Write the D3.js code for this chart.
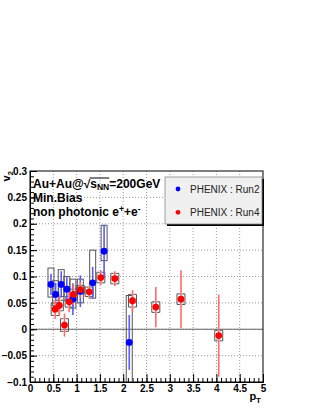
<!DOCTYPE html>
<html>
<head>
<meta charset="utf-8">
<script src="https://cdn.jsdelivr.net/npm/d3@7"></script>
<style>
  body { margin: 0; background: #fff; }
  text { font-family: "Liberation Sans", Arial, sans-serif; }
</style>
</head>
<body>
<svg id="chart" width="316" height="409"></svg>
<script>
// Run2 (blue) : pT, v2, stat error, systematic box
var run2Pt    = [0.45, 0.55, 0.67, 0.79, 0.92, 1.08, 1.345, 1.59, 2.13];
var run2V2    = [0.085, 0.066, 0.085, 0.076, 0.057, 0.072, 0.088, 0.148, -0.025];
var run2Stat  = [0.020, 0.022, 0.025, 0.025, 0.030, 0.030, 0.030, 0.050, 0.052];
var run2SysHi = [0.116, 0.092, 0.113, 0.100, 0.095, 0.095, 0.150, 0.197, 0.064];
var run2SysLo = [0.061, 0.045, 0.062, 0.055, 0.040, 0.050, 0.059, 0.130, -0.120];

// Run4 (red)
var run4Pt   = [0.54, 0.63, 0.74, 0.84, 0.93, 1.08, 1.27, 1.52, 1.82, 2.2, 2.7, 3.24, 4.05];
var run4V2   = [0.038, 0.045, 0.008, 0.052, 0.066, 0.075, 0.071, 0.098, 0.096, 0.054, 0.042, 0.057, -0.012];
var run4Stat = [0.018, 0.020, 0.022, 0.020, 0.020, 0.015, 0.012, 0.014, 0.014, 0.020, 0.038, 0.055, 0.078];
var run4Sys  = [0.012, 0.010, 0.012, 0.010, 0.010, 0.008, 0.009, 0.010, 0.010, 0.012, 0.010, 0.010, 0.010];

var xTicks = [0, 0.5, 1, 1.5, 2, 2.5, 3, 3.5, 4, 4.5, 5];
var yTicks = [-0.1, -0.05, 0, 0.05, 0.1, 0.15, 0.2, 0.25, 0.3];
var legendNames = ["PHENIX : Run2", "PHENIX : Run4"];

var svg = d3.select("#chart");
var L = 30, R = 263, T = 171, B = 382;

var x = d3.scaleLinear().domain([0, 5]).range([L, R]);
var y = d3.scaleLinear().domain([-0.1, 0.3]).range([B, T]);

svg.append("defs").append("clipPath").attr("id", "clip")
  .append("rect").attr("x", L).attr("y", T).attr("width", R - L).attr("height", B - T);

// grid
var grid = svg.append("g");
grid.selectAll(".gx").data(xTicks.slice(1, -1)).enter().append("line")
  .attr("x1", d => x(d)).attr("x2", d => x(d)).attr("y1", T).attr("y2", B)
  .attr("stroke", "#999").attr("stroke-dasharray", "1,2");
grid.selectAll(".gy").data(yTicks.slice(1, -1)).enter().append("line")
  .attr("x1", L).attr("x2", R).attr("y1", d => y(d)).attr("y2", d => y(d))
  .attr("stroke", "#999").attr("stroke-dasharray", "1,2");

// zero line
svg.append("line").attr("x1", L).attr("x2", R).attr("y1", y(0)).attr("y2", y(0))
  .attr("stroke", "#666").attr("stroke-width", 1);

// frame
svg.append("rect").attr("x", L).attr("y", T).attr("width", R - L).attr("height", B - T)
  .attr("fill", "none").attr("stroke", "#000").attr("stroke-width", 1);

// axes (ticks inward)
svg.append("g").attr("transform", "translate(0," + B + ")")
  .call(d3.axisBottom(x).tickValues(xTicks).tickSize(-8).tickPadding(3)
    .tickFormat(d => d3.format("")(d)));
svg.append("g").attr("transform", "translate(0," + B + ")")
  .call(d3.axisBottom(x).tickValues(d3.range(0, 5.001, 0.1)).tickSize(-4).tickFormat(""));
svg.append("g").attr("transform", "translate(" + L + ",0)")
  .call(d3.axisLeft(y).tickValues(yTicks).tickSize(-7).tickPadding(3)
    .tickFormat(d => d3.format("")(+d.toFixed(2))));
svg.append("g").attr("transform", "translate(" + L + ",0)")
  .call(d3.axisLeft(y).tickValues(d3.range(-0.1, 0.3001, 0.01)).tickSize(-4).tickFormat(""));
svg.selectAll(".domain").attr("stroke", "#000");
svg.selectAll(".tick line").attr("stroke", "#000");
svg.selectAll(".tick text").attr("font-size", 10).attr("font-weight", "bold").attr("fill", "#000");

var plot = svg.append("g").attr("clip-path", "url(#clip)");

// Run2 systematic boxes
plot.selectAll(".box2").data(run2Pt).enter().append("rect")
  .attr("x", d => x(d) - 3).attr("width", 6)
  .attr("y", (d, i) => y(run2SysHi[i]))
  .attr("height", (d, i) => y(run2SysLo[i]) - y(run2SysHi[i]))
  .attr("fill", "none").attr("stroke", "#555").attr("stroke-width", 1);

// Run4 systematic brackets
plot.selectAll(".br4").data(run4Pt).enter().append("path")
  .attr("d", function(d, i) {
    var cx = x(d), t = y(run4V2[i] + run4Sys[i]), b = y(run4V2[i] - run4Sys[i]);
    return "M" + (cx - 1) + "," + t + "H" + (cx - 4) + "V" + b + "H" + (cx - 1) +
           "M" + (cx + 1) + "," + t + "H" + (cx + 4) + "V" + b + "H" + (cx + 1);
  })
  .attr("fill", "none").attr("stroke", "#555").attr("stroke-width", 1);

// stat errors
plot.selectAll(".e2").data(run2Pt).enter().append("line")
  .attr("x1", d => x(d)).attr("x2", d => x(d))
  .attr("y1", (d, i) => y(run2V2[i] + run2Stat[i]))
  .attr("y2", (d, i) => y(run2V2[i] - run2Stat[i]))
  .attr("stroke", "#5a5aff").attr("stroke-width", 1.6);
plot.selectAll(".e4").data(run4Pt).enter().append("line")
  .attr("x1", d => x(d)).attr("x2", d => x(d))
  .attr("y1", (d, i) => y(run4V2[i] + run4Stat[i]))
  .attr("y2", (d, i) => y(run4V2[i] - run4Stat[i]))
  .attr("stroke", "#ff6a6a").attr("stroke-width", 1.6);

// markers
plot.selectAll(".m2").data(run2Pt).enter().append("circle")
  .attr("cx", d => x(d)).attr("cy", (d, i) => y(run2V2[i])).attr("r", 3.4).attr("fill", "#0000ff");
plot.selectAll(".m4").data(run4Pt).enter().append("circle")
  .attr("cx", d => x(d)).attr("cy", (d, i) => y(run4V2[i])).attr("r", 3.4).attr("fill", "#ff0000");

// title text
var t1 = svg.append("text").attr("x", 33).attr("y", 187.5).attr("font-size", 12).attr("font-weight", "bold");
t1.append("tspan").text("Au+Au@");
t1.append("tspan").text("\u221A");
t1.append("tspan").text("s");
t1.append("tspan").attr("font-size", 8.5).attr("dy", 2.5).text("NN");
t1.append("tspan").attr("dy", -2.5).text("=200GeV");
var n = t1.node();
var e6 = n.getExtentOfChar(6), e9 = n.getExtentOfChar(9);
svg.append("line").attr("x1", e6.x + e6.width - 0.5).attr("x2", e9.x + e9.width)
  .attr("y1", e6.y + 1.5).attr("y2", e6.y + 1.5).attr("stroke", "#000").attr("stroke-width", 1);

svg.append("text").attr("x", 33).attr("y", 201.5).attr("font-size", 12).attr("font-weight", "bold")
  .text("Min.Bias");
var t3 = svg.append("text").attr("x", 33).attr("y", 215.5).attr("font-size", 12).attr("font-weight", "bold");
t3.append("tspan").text("non photonic e");
t3.append("tspan").attr("font-size", 8.5).attr("dy", -4).text("+");
t3.append("tspan").attr("dy", 4).text("+e");
t3.append("tspan").attr("font-size", 8.5).attr("dy", -4).text("-");

// legend
var lg = svg.append("g");
lg.append("rect").attr("x", 167).attr("y", 179).attr("width", 97).attr("height", 47).attr("fill", "#000");
lg.append("rect").attr("x", 165).attr("y", 177).attr("width", 97).attr("height", 47)
  .attr("fill", "#f0f0f0").attr("stroke", "#888").attr("stroke-width", 0.8);
var lgColors = ["#0000ff", "#ff0000"];
lg.selectAll(".li").data(legendNames).enter().append("circle")
  .attr("cx", 178).attr("cy", (d, i) => 189 + i * 23.3).attr("r", 2.4).attr("fill", (d, i) => lgColors[i]);
lg.selectAll(".lt").data(legendNames).enter().append("text")
  .attr("x", 190).attr("y", (d, i) => 192.5 + i * 23.3).attr("font-size", 10).attr("fill", "#222")
  .text(d => d);

// axis titles
var yl = svg.append("text").attr("transform", "translate(10,171) rotate(-90)")
  .attr("text-anchor", "end").attr("font-size", 11).attr("font-weight", "bold");
yl.append("tspan").text("v");
yl.append("tspan").attr("font-size", 8).attr("dy", 2.5).text("2");

var xl = svg.append("text").attr("x", 261).attr("y", 400).attr("text-anchor", "end")
  .attr("font-size", 11).attr("font-weight", "bold");
xl.append("tspan").text("p");
xl.append("tspan").attr("font-size", 8).attr("dy", 2.5).text("T");
</script>
</body>
</html>
